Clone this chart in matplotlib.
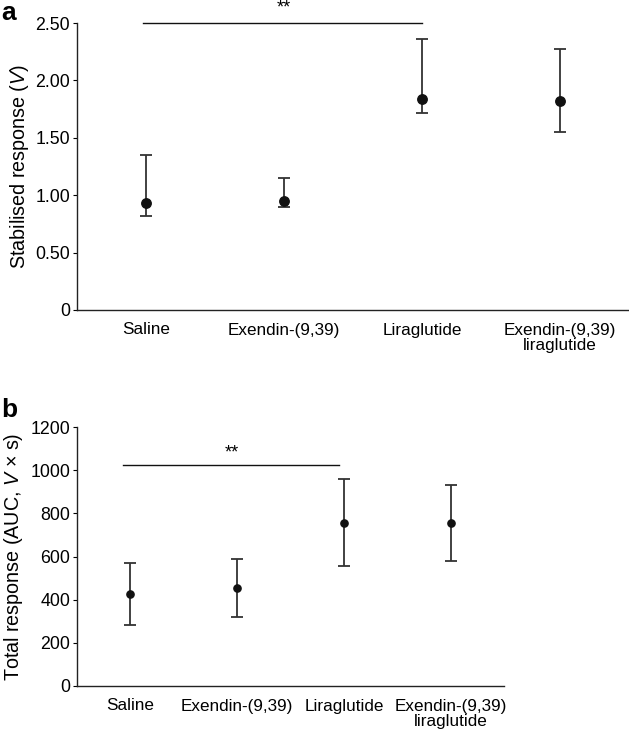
import matplotlib
matplotlib.use("Agg")
import matplotlib.pyplot as plt

plt.rcParams['font.family'] = ['Liberation Sans', 'DejaVu Sans']
plt.rcParams['mathtext.fontset'] = 'custom'
plt.rcParams['mathtext.rm'] = 'Liberation Sans'
plt.rcParams['mathtext.it'] = 'Liberation Sans:italic'

# panel a - stabilised response
labels_a = ["Saline", "Exendin-(9,39)", "Liraglutide", "Exendin-(9,39)\nliraglutide"]
mean_a = [0.93, 0.95, 1.84, 1.82]
upper_a = [1.35, 1.15, 2.36, 2.27]
lower_a = [0.82, 0.90, 1.72, 1.55]

# panel b - total response (AUC)
labels_b = ["Saline", "Exendin-(9,39)", "Liraglutide", "Exendin-(9,39)\nliraglutide"]
mean_b = [428, 452, 756, 756]
upper_b = [570, 588, 958, 932]
lower_b = [282, 320, 555, 578]

W, H = 629, 733
fig = plt.figure(figsize=(W / 100, H / 100), dpi=100)

def box(l, t, r, b):
    return [l / W, 1 - b / H, (r - l) / W, (b - t) / H]

ax1 = fig.add_axes(box(77, 23, 629, 310))
ax2 = fig.add_axes(box(77, 427, 504, 686))

def draw(ax, means, up, lo, labels, ms):
    x = list(range(len(means)))
    err = [[m - l for m, l in zip(means, lo)], [u - m for m, u in zip(means, up)]]
    ax.errorbar(x, means, yerr=err, fmt='o', color='#111111', ecolor='#333333',
                elinewidth=1.3, capsize=4, capthick=1.3, markersize=ms)
    ax.set_xlim(-0.5, 3.5)
    ax.set_xticks(x)
    ax.set_xticklabels(labels, fontsize=12.3, linespacing=1.05)
    ax.tick_params(axis='x', length=0, pad=9)
    ax.tick_params(axis='y', labelsize=12.8, length=3, direction='out', pad=2)
    for s in ['top', 'right']:
        ax.spines[s].set_visible(False)
    for s in ['left', 'bottom']:
        ax.spines[s].set_linewidth(1.0)
        ax.spines[s].set_color('#222222')

draw(ax1, mean_a, upper_a, lower_a, labels_a, 6.8)
ax1.set_ylim(0, 2.5)
ax1.set_yticks([0, 0.5, 1.0, 1.5, 2.0, 2.5])
ax1.set_yticklabels(["0", "0.50", "1.00", "1.50", "2.00", "2.50"])
ax1.set_ylabel("Stabilised response ($V$)", fontsize=14.2, labelpad=3)
ax1.plot([-0.02, 2.0], [2.5, 2.5], color='#111111', lw=1.0, clip_on=False)
ax1.text(1.0, 2.56, "**", ha='center', va='bottom', fontsize=13, clip_on=False)

draw(ax2, mean_b, upper_b, lower_b, labels_b, 5.2)
ax2.set_ylim(0, 1200)
ax2.set_yticks(range(0, 1201, 200))
ax2.set_ylabel("Total response (AUC, $V$ × s)", fontsize=14.2, labelpad=4)
ax2.plot([-0.07, 1.95], [1023, 1023], color='#111111', lw=1.0)
ax2.text(0.95, 1040, "**", ha='center', va='bottom', fontsize=13)

fig.text(1 / W, 1 - 1 / H, "a", fontsize=19, fontweight='bold', va='top', ha='left')
fig.text(1 / W, 1 - 398 / H, "b", fontsize=19, fontweight='bold', va='top', ha='left')

fig.savefig("out.png", dpi=100)
